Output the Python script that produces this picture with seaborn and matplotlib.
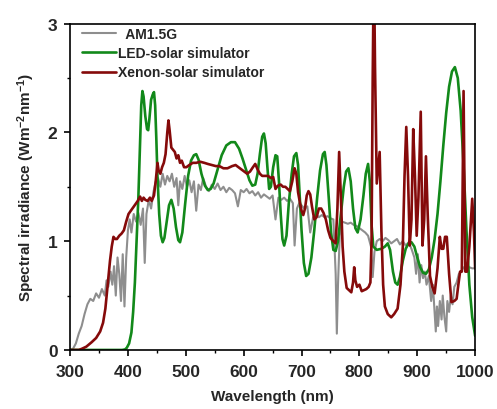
import numpy as np
import pandas as pd
import matplotlib
matplotlib.use("Agg")
import matplotlib.pyplot as plt
import seaborn as sns
from matplotlib.ticker import MultipleLocator

# ---------------- data ----------------
am_wl = [300, 305, 310, 315, 320, 325, 330, 335, 340, 345, 350, 355, 360, 363, 366, 370, 373, 376, 379,
         382, 385, 388, 391, 394, 397, 400, 403, 406, 410, 414, 418, 422, 426, 429, 432, 436, 440, 444,
         448, 452, 456, 460, 464, 468, 472, 476, 480, 484, 487, 490, 494, 498, 502, 506, 510, 514, 518,
         522, 526, 530, 535, 540, 545, 550, 555, 560, 565, 570, 575, 580, 585, 590, 595, 600, 605, 610,
         615, 620, 625, 630, 635, 640, 645, 650, 655, 660, 665, 670, 675, 680, 685, 688, 692, 696, 700,
         705, 710, 715, 720, 725, 730, 735, 740, 745, 750, 755, 759, 761, 763, 766, 770, 775, 780, 785,
         790, 795, 800, 805, 810, 815, 820, 823, 826, 830, 835, 840, 845, 850, 855, 860, 865, 870, 875,
         880, 885, 890, 895, 898, 901, 904, 907, 910, 913, 916, 920, 924, 927, 930, 932, 934, 936, 939,
         942, 944, 947, 950, 952, 955, 958, 961, 964, 968, 972, 976, 980, 985, 990, 995, 1000]
am_val = [0.0, 0.01, 0.06, 0.15, 0.22, 0.33, 0.42, 0.47, 0.45, 0.52, 0.48, 0.56, 0.50, 0.64, 0.58, 0.72, 0.60,
          0.77, 0.50, 0.85, 0.70, 0.45, 0.88, 0.40, 0.85, 1.10, 1.20, 1.08, 1.25, 1.18, 1.26, 1.15, 1.30,
          0.80, 1.25, 1.38, 1.30, 1.45, 1.55, 1.58, 1.50, 1.62, 1.52, 1.60, 1.55, 1.62, 1.50, 1.58, 1.33,
          1.55, 1.48, 1.60, 1.50, 1.56, 1.45, 1.55, 1.28, 1.52, 1.47, 1.58, 1.50, 1.46, 1.52, 1.48, 1.53,
          1.47, 1.50, 1.45, 1.49, 1.47, 1.44, 1.32, 1.47, 1.45, 1.48, 1.44, 1.46, 1.42, 1.45, 1.40, 1.43,
          1.41, 1.39, 1.42, 1.20, 1.40, 1.38, 1.40, 1.37, 1.39, 1.35, 0.96, 1.30, 1.35, 1.33, 1.30, 1.32,
          1.08, 1.22, 1.25, 1.22, 1.24, 1.22, 1.23, 1.21, 1.20, 0.70, 0.15, 0.60, 1.05, 1.18, 1.17, 1.16,
          1.17, 1.15, 1.14, 1.12, 1.10, 1.08, 1.05, 0.95, 0.67, 0.90, 1.00, 1.02, 1.00, 1.03, 1.01, 0.98,
          1.00, 1.02, 0.97, 1.00, 0.96, 0.99, 0.93, 0.85, 0.70, 0.88, 0.62, 0.78, 0.66, 0.72, 0.60, 0.68,
          0.45, 0.60, 0.35, 0.17, 0.40, 0.22, 0.45, 0.28, 0.50, 0.30, 0.17, 0.45, 0.35, 0.50, 0.42, 0.58,
          0.62, 0.70, 0.72, 0.76, 0.74, 0.76, 0.75, 0.75]

led_wl = [300, 390, 395, 398, 402, 406, 409, 412, 415, 418, 421, 423, 425, 427, 430, 433, 435, 437, 440,
          443, 445, 447, 449, 451, 454, 457, 460, 463, 467, 471, 475, 479, 483, 487, 490, 494, 499, 504,
          509, 514, 518, 522, 527, 533, 538, 543, 548, 555, 562, 570, 578, 585, 592, 598, 604, 610, 615,
          620, 624, 628, 632, 635, 638, 641, 644, 647, 651, 655, 658, 661, 664, 667, 670, 674, 678, 683,
          687, 691, 694, 697, 700, 704, 708, 712, 717, 722, 727, 732, 737, 740, 743, 747, 751, 755, 759,
          763, 768, 773, 777, 781, 785, 789, 793, 797, 802, 807, 811, 815, 818, 821, 824, 830, 838, 844,
          849, 853, 858, 862, 866, 870, 875, 880, 885, 890, 895, 900, 905, 910, 915, 920, 925, 930, 935,
          940, 945, 950, 955, 960, 965, 970, 975, 980, 985, 990, 995, 1000]
led_val = [0.0, 0.0, 0.005, 0.02, 0.06, 0.16, 0.35, 0.62, 1.0, 1.40, 1.90, 2.25, 2.38, 2.33, 2.15, 2.03,
           2.02, 2.12, 2.30, 2.35, 2.37, 2.25, 1.95, 1.60, 1.25, 1.05, 0.99, 1.03, 1.18, 1.33, 1.38, 1.30,
           1.13, 1.01, 0.99, 1.08, 1.35, 1.60, 1.74, 1.79, 1.80, 1.75, 1.62, 1.51, 1.47, 1.48, 1.53, 1.66,
           1.79, 1.88, 1.91, 1.91, 1.85, 1.76, 1.66, 1.56, 1.51, 1.52, 1.62, 1.80, 1.96, 1.99, 1.90, 1.68,
           1.48, 1.50, 1.68, 1.79, 1.78, 1.55, 1.25, 1.02, 0.96, 1.05, 1.35, 1.62, 1.78, 1.81, 1.70, 1.40,
           1.10, 0.80, 0.68, 0.70, 0.85, 1.10, 1.40, 1.65, 1.80, 1.82, 1.70, 1.40, 1.08, 0.92, 0.91, 1.00,
           1.25, 1.50, 1.64, 1.67, 1.55, 1.30, 1.12, 1.08, 1.20, 1.42, 1.62, 1.71, 1.55, 1.15, 0.95, 0.92,
           0.93, 0.95, 0.98, 0.92, 0.72, 0.62, 0.60, 0.67, 0.82, 0.93, 0.98, 0.99, 0.95, 0.85, 0.76, 0.71,
           0.70, 0.74, 0.85, 1.02, 1.25, 1.55, 1.88, 2.18, 2.42, 2.56, 2.60, 2.50, 2.20, 1.70, 1.10, 0.60,
           0.30, 0.13]

xe_wl = [300, 315, 320, 328, 337, 345, 352, 357, 361, 365, 369, 372, 375, 378, 381, 385, 389, 393, 397,
         401, 405, 409, 413, 417, 421, 424, 427, 430, 434, 438, 441, 445, 448, 451, 453, 456, 459, 462,
         465, 468, 470, 472, 475, 478, 481, 484, 487, 490, 493, 497, 501, 506, 512, 518, 525, 532, 538,
         545, 552, 558, 565, 572, 580, 586, 591, 596, 601, 606, 611, 616, 620, 624, 628, 632, 637, 642,
         647, 651, 655, 659, 664, 668, 672, 676, 680, 684, 688, 691, 694, 697, 700, 703, 706, 709, 712,
         715, 718, 722, 726, 730, 734, 738, 742, 746, 750, 755, 759, 762, 765, 768, 771, 774, 778, 782,
         786, 789, 791, 793, 796, 800, 804, 808, 812, 816, 819, 821, 823, 825, 827, 830, 835, 838, 841,
         844, 849, 855, 860, 866, 871, 875, 878, 881, 884, 887, 890, 893, 896, 899, 902, 906, 909, 912,
         915, 918, 922, 926, 930, 935, 939, 942, 945, 948, 951, 955, 959, 964, 968, 971, 974, 977, 980,
         983, 986, 990, 995, 998, 1000]
xe_val = [0.0, 0.0, 0.01, 0.03, 0.07, 0.11, 0.17, 0.25, 0.38, 0.60, 0.82, 0.95, 1.04, 1.02, 1.02, 1.05,
          1.07, 1.10, 1.18, 1.25, 1.28, 1.31, 1.34, 1.37, 1.41, 1.37, 1.40, 1.38, 1.37, 1.40, 1.37, 1.42,
          1.55, 1.72, 1.65, 1.62, 1.68, 1.72, 1.80, 2.00, 2.11, 2.02, 1.86, 1.84, 1.82, 1.76, 1.79, 1.72,
          1.74, 1.68, 1.68, 1.70, 1.72, 1.72, 1.73, 1.72, 1.71, 1.70, 1.69, 1.69, 1.67, 1.67, 1.69, 1.70,
          1.68, 1.66, 1.64, 1.62, 1.64, 1.68, 1.71, 1.66, 1.62, 1.60, 1.60, 1.60, 1.58, 1.59, 1.48, 1.51,
          1.52, 1.50, 1.50, 1.48, 1.46, 1.55, 1.67, 1.62, 1.45, 1.36, 1.28, 1.24, 1.30, 1.42, 1.46, 1.43,
          1.32, 1.20, 1.22, 1.30, 1.30, 1.26, 1.20, 1.10, 1.03, 1.00, 0.98, 1.30, 1.82, 1.40, 0.95, 0.72,
          0.57, 0.55, 0.53, 0.62, 0.76, 0.64, 0.58, 0.60, 0.54, 0.55, 0.56, 0.58, 0.62, 1.00, 2.50, 3.60,
          2.60, 1.53, 1.82, 1.10, 0.60, 0.40, 0.33, 0.30, 0.33, 0.38, 0.60, 0.95, 1.60, 2.05, 1.60, 0.96,
          1.20, 2.03, 1.60, 1.05, 1.40, 2.19, 0.96, 1.20, 1.78, 1.25, 0.68, 0.58, 0.52, 0.75, 1.04, 0.93,
          0.93, 1.04, 1.04, 0.70, 0.44, 0.45, 0.47, 0.60, 0.72, 0.72, 2.38, 0.72, 0.72, 0.95, 1.39, 1.08,
          0.75]

labels = ["  AM1.5G", "LED-solar simulator", "Xenon-solar simulator"]
x_ticks = [300, 400, 500, 600, 700, 800, 900, 1000]
y_ticks = [0, 1, 2, 3]

# ---------------- style ----------------
sns.set_theme(style="ticks")
plt.rcParams["font.family"] = ["Liberation Sans", "DejaVu Sans"]
plt.rcParams["font.weight"] = "bold"
plt.rcParams["mathtext.fontset"] = "custom"
plt.rcParams["mathtext.rm"] = "Liberation Sans:bold"
plt.rcParams["mathtext.bf"] = "Liberation Sans:bold"
plt.rcParams["mathtext.default"] = "bf"

fig = plt.figure(figsize=(4.97, 4.10), dpi=100)
ax = fig.add_axes([0.141, 0.144, 0.815, 0.796])

c_gray = "#8e8e8e"
c_green = "#12891a"
c_red = "#850a0a"

sns.lineplot(x=am_wl, y=am_val, ax=ax, color=c_gray, lw=1.5, label=labels[0])
sns.lineplot(x=led_wl, y=led_val, ax=ax, color=c_green, lw=1.9, label=labels[1])
sns.lineplot(x=xe_wl, y=xe_val, ax=ax, color=c_red, lw=1.9, label=labels[2])

ax.set_xlim(300, 1000)
ax.set_ylim(0, 3)
ax.set_xticks(x_ticks)
ax.set_yticks(y_ticks)
ax.xaxis.set_minor_locator(MultipleLocator(50))
ax.yaxis.set_minor_locator(MultipleLocator(0.5))
ax.tick_params(which="major", direction="out", length=4, width=1.2, labelsize=12.5, pad=5, color="black")
ax.tick_params(axis="x", which="major", pad=6)
ax.tick_params(which="minor", direction="out", length=2.5, width=1.0, color="black")
for lab in ax.get_xticklabels() + ax.get_yticklabels():
    lab.set_fontweight("bold")
for s in ax.spines.values():
    s.set_linewidth(1.2)
    s.set_color("black")
    s.set_visible(True)

ax.set_xlabel("Wavelength (nm)", fontsize=11, fontweight="bold", labelpad=7)
ax.set_ylabel(r"Spectral irradiance (Wm$^{-2}$nm$^{-1}$)", fontsize=11, fontweight="bold", labelpad=8)

leg = ax.legend(loc="upper left", bbox_to_anchor=(0.03, 0.99), frameon=False,
                prop={"weight": "bold", "size": 10}, handlelength=2.45, handletextpad=0.1,
                labelspacing=0.38, borderpad=0.0, borderaxespad=0.0)

fig.savefig("out.png", dpi=100)
